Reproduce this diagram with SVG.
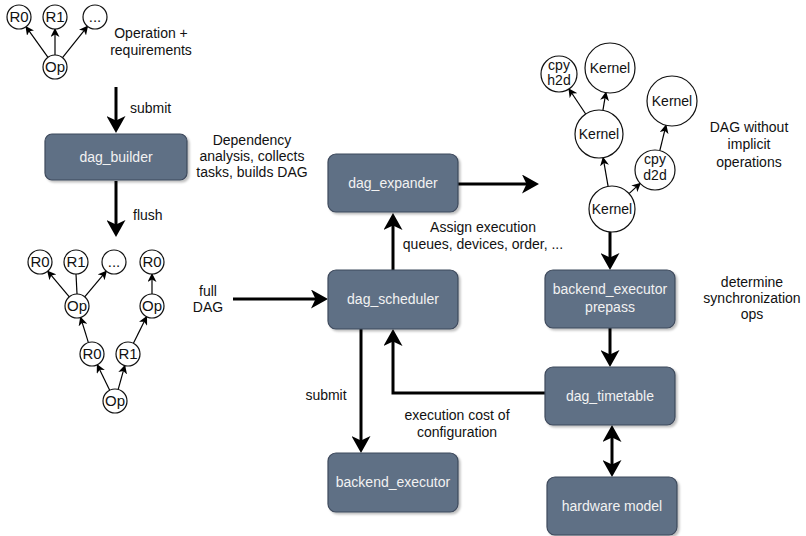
<svg xmlns="http://www.w3.org/2000/svg" width="806" height="536" viewBox="0 0 806 536">
  <defs>
    <style>
      text { font-family: "Liberation Sans", Arial, Helvetica, sans-serif; font-size: 14px; fill: #111; }
      .c { text-anchor: middle; }
      .box rect { fill: #5f6f85; stroke: #3e4a5c; stroke-width: 1.2; filter: url(#shadow); }
      .box text { fill: #f2f2f2; text-anchor: middle; }
      .node circle { fill: #fff; stroke: #111; stroke-width: 1.2; }
      .node text { text-anchor: middle; }
      .small-node text { font-size: 15px; }
      .thick { fill: none; stroke: #000; stroke-width: 3; marker-end: url(#big); }
      .thin { fill: none; stroke: #000; stroke-width: 1.2; marker-end: url(#small); }
      .plain { fill: none; stroke: #000; stroke-width: 1.2; }
    </style>
    <filter id="shadow" x="-10%" y="-10%" width="130%" height="140%">
      <feDropShadow dx="2" dy="2" stdDeviation="1" flood-color="#000" flood-opacity="0.25"/>
    </filter>
    <marker id="big" markerUnits="userSpaceOnUse" markerWidth="19" markerHeight="19" refX="12" refY="9.5" orient="auto-start-reverse">
      <path d="M0,0 L17,9.5 L0,19 L4.5,9.5 Z" fill="#000"/>
    </marker>
    <marker id="small" markerUnits="userSpaceOnUse" markerWidth="10" markerHeight="9" refX="8" refY="4.5" orient="auto">
      <path d="M0,0 L9,4.5 L0,9 L2.5,4.5 Z" fill="#000"/>
    </marker>
  </defs>

  <!-- connectors -->
  <g id="connectors">
    <!-- main flow -->
    <path class="thick" d="M116,87 V128"/>
    <path class="thick" d="M116,181 V232"/>
    <path class="thick" d="M233,299 H323"/>
    <path class="thick" d="M458,184 H534"/>
    <path class="thick" d="M393,270 V218"/>
    <path class="thick" d="M545,393 H393 V334"/>
    <path class="thick" d="M361,329 V448"/>
    <path class="thick" d="M610,232 V265"/>
    <path class="thick" d="M610,328 V362"/>
    <path class="thick" d="M612,430 V472" marker-start="url(#big)"/>

    <!-- operation with requirements -->
    <path class="thin" d="M48,57.3 L26,26.7"/>
    <path class="thin" d="M55,55 L55,29"/>
    <path class="thin" d="M62.5,57.6 L87.5,26.4"/>

    <!-- full DAG -->
    <path class="thin" d="M69.3,296.8 L47.7,271.2"/>
    <path class="plain" d="M77,294 L76,274"/>
    <path class="thin" d="M84.7,296.8 L106.3,271.2"/>
    <path class="thin" d="M152,294 L152,274"/>
    <path class="thin" d="M88.4,342.6 L80.6,317.4"/>
    <path class="thin" d="M133.4,343.3 L146.6,316.7"/>
    <path class="thin" d="M109.7,390.2 L97.3,364.8"/>
    <path class="thin" d="M118.2,389.4 L124.8,365.6"/>

    <!-- kernel DAG -->
    <path class="thin" d="M608.1,186.3 L603.1,157.7"/>
    <path class="thin" d="M629,193.6 L640.2,183.4"/>
    <path class="thin" d="M585.7,114 L569,89"/>
    <path class="thin" d="M602.9,110.3 L605.9,92.6"/>
    <path class="thin" d="M659.8,150.6 L666,125.3"/>
  </g>

  <!-- processing stages -->
  <g id="dag_builder" class="box"><rect x="45" y="134" width="142" height="46" rx="7"/><text x="116" y="162">dag_builder</text></g>
  <g id="dag_expander" class="box"><rect x="328" y="154" width="130" height="58" rx="8"/><text x="393" y="188">dag_expander</text></g>
  <g id="dag_scheduler" class="box"><rect x="328" y="270" width="130" height="59" rx="8"/><text x="393" y="304">dag_scheduler</text></g>
  <g id="backend_executor_prepass" class="box"><rect x="545" y="270" width="130" height="58" rx="8"/><text x="610" y="294">backend_executor</text><text x="610" y="312">prepass</text></g>
  <g id="dag_timetable" class="box"><rect x="545" y="367" width="130" height="58" rx="8"/><text x="610" y="401">dag_timetable</text></g>
  <g id="backend_executor" class="box"><rect x="328" y="453" width="130" height="59" rx="8"/><text x="393" y="487">backend_executor</text></g>
  <g id="hardware_model" class="box"><rect x="547" y="477" width="130" height="58" rx="8"/><text x="612" y="511">hardware model</text></g>

  <!-- operation with requirements -->
  <g id="req_r0" class="node small-node"><circle cx="19" cy="17" r="12"/><text x="19" y="22">R0</text></g>
  <g id="req_r1" class="node small-node"><circle cx="55" cy="17" r="12"/><text x="55" y="22">R1</text></g>
  <g id="req_more" class="node small-node"><circle cx="95" cy="17" r="12"/><text x="95" y="22">...</text></g>
  <g id="req_op" class="node small-node"><circle cx="55" cy="67" r="12"/><text x="55" y="72">Op</text></g>

  <!-- full DAG -->
  <g id="dag_r0a" class="node small-node"><circle cx="40" cy="262" r="12"/><text x="40" y="267">R0</text></g>
  <g id="dag_r1a" class="node small-node"><circle cx="76" cy="262" r="12"/><text x="76" y="267">R1</text></g>
  <g id="dag_more" class="node small-node"><circle cx="114" cy="262" r="12"/><text x="114" y="267">...</text></g>
  <g id="dag_r0b" class="node small-node"><circle cx="152" cy="262" r="12"/><text x="152" y="267">R0</text></g>
  <g id="dag_op_l" class="node small-node"><circle cx="77" cy="306" r="12"/><text x="77" y="311">Op</text></g>
  <g id="dag_op_r" class="node small-node"><circle cx="152" cy="306" r="12"/><text x="152" y="311">Op</text></g>
  <g id="dag_r0c" class="node small-node"><circle cx="92" cy="354" r="12"/><text x="92" y="359">R0</text></g>
  <g id="dag_r1c" class="node small-node"><circle cx="128" cy="354" r="12"/><text x="128" y="359">R1</text></g>
  <g id="dag_op_b" class="node small-node"><circle cx="115" cy="401" r="12"/><text x="115" y="406">Op</text></g>

  <!-- kernel DAG -->
  <g id="k_h2d" class="node"><circle cx="559" cy="74" r="18"/><text x="559" y="70">cpy</text><text x="559" y="85">h2d</text></g>
  <g id="k_top" class="node"><circle cx="610" cy="68" r="25"/><text x="610" y="73">Kernel</text></g>
  <g id="k_right" class="node"><circle cx="672" cy="101" r="25"/><text x="672" y="106">Kernel</text></g>
  <g id="k_mid" class="node"><circle cx="599" cy="134" r="24"/><text x="599" y="139">Kernel</text></g>
  <g id="k_d2d" class="node"><circle cx="655" cy="170" r="20"/><text x="655" y="164">cpy</text><text x="655" y="180">d2d</text></g>
  <g id="k_bottom" class="node"><circle cx="612" cy="209" r="23"/><text x="612" y="214">Kernel</text></g>

  <!-- annotations -->
  <g id="labels">
    <text class="c" x="151" y="38">Operation +</text>
    <text class="c" x="151" y="55">requirements</text>
    <text x="130" y="113">submit</text>
    <text class="c" x="252" y="145">Dependency</text>
    <text class="c" x="252" y="161">analysis, collects</text>
    <text class="c" x="252" y="177">tasks, builds DAG</text>
    <text x="133" y="220">flush</text>
    <text class="c" x="208" y="296">full</text>
    <text class="c" x="208" y="312">DAG</text>
    <text class="c" x="483" y="232">Assign execution</text>
    <text class="c" x="483" y="249">queues, devices, order, ...</text>
    <text class="c" x="749" y="132">DAG without</text>
    <text class="c" x="749" y="149">implicit</text>
    <text class="c" x="749" y="167">operations</text>
    <text class="c" x="752" y="287">determine</text>
    <text class="c" x="752" y="303">synchronization</text>
    <text class="c" x="752" y="319">ops</text>
    <text class="c" x="326" y="400">submit</text>
    <text class="c" x="457" y="420">execution cost of</text>
    <text class="c" x="457" y="437">configuration</text>
  </g>
</svg>
